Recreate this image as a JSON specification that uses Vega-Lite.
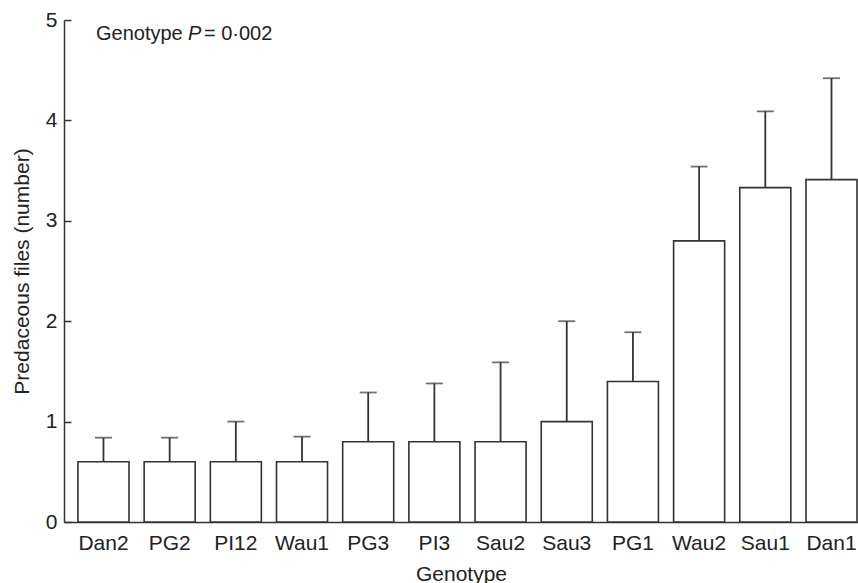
{
  "$schema": "https://vega.github.io/schema/vega-lite/v6.json",
  "autosize": "none",
  "width": 794,
  "height": 502,
  "padding": {"left": 64, "top": 20, "right": 0, "bottom": 61},
  "background": "white",
  "config": {
    "font": "Liberation Sans",
    "view": {"stroke": null},
    "axis": {"grid": false, "domainColor": "#333333", "domainWidth": 1.5, "tickColor": "#333333", "tickWidth": 1.5, "labelColor": "#222222", "titleColor": "#222222", "labelFont": "Liberation Sans", "titleFont": "Liberation Sans", "labelFontSize": 21, "titleFontSize": 21, "titleFontWeight": "normal"}
  },
  "data": {
    "values": [
      {"genotype": "Dan2", "mean": 0.6, "upper": 0.84},
      {"genotype": "PG2", "mean": 0.6, "upper": 0.84},
      {"genotype": "PI12", "mean": 0.6, "upper": 1.0},
      {"genotype": "Wau1", "mean": 0.6, "upper": 0.85},
      {"genotype": "PG3", "mean": 0.8, "upper": 1.29},
      {"genotype": "PI3", "mean": 0.8, "upper": 1.38},
      {"genotype": "Sau2", "mean": 0.8, "upper": 1.59},
      {"genotype": "Sau3", "mean": 1.0, "upper": 2.0},
      {"genotype": "PG1", "mean": 1.4, "upper": 1.89},
      {"genotype": "Wau2", "mean": 2.8, "upper": 3.54},
      {"genotype": "Sau1", "mean": 3.33, "upper": 4.09},
      {"genotype": "Dan1", "mean": 3.41, "upper": 4.42}
    ]
  },
  "encoding": {
    "x": {
      "field": "genotype", "type": "nominal", "sort": null,
      "scale": {"paddingInner": 0.229, "paddingOuter": 0.113, "align": 0.933},
      "axis": {"title": "Genotype", "labelAngle": 0, "ticks": false, "labelPadding": 10, "titlePadding": 10}
    }
  },
  "layer": [
    {
      "mark": {"type": "rule", "color": "#333333", "strokeWidth": 1.8},
      "encoding": {
        "y": {"field": "mean", "type": "quantitative", "scale": {"domain": [0, 5], "nice": false},
          "axis": {"title": "Predaceous files (number)", "values": [0, 1, 2, 3, 4, 5], "format": "d", "tickSize": -7, "labelPadding": 14, "titlePadding": 13}},
        "y2": {"field": "upper"}
      }
    },
    {
      "mark": {"type": "tick", "color": "#333333", "thickness": 1.8, "size": 17, "orient": "horizontal"},
      "encoding": {
        "y": {"field": "upper", "type": "quantitative"}
      }
    },
    {
      "mark": {"type": "bar", "fill": "white", "stroke": "#333333", "strokeWidth": 1.6},
      "encoding": {
        "y": {"field": "mean", "type": "quantitative"}
      }
    },
    {
      "data": {"values": [{"genotype": "Dan2", "y": 4.8, "label": "Genotype"}]},
      "mark": {"type": "text", "align": "left", "baseline": "alphabetic", "fontSize": 20, "dx": 18, "color": "#222222"},
      "encoding": {
        "x": {"field": "genotype", "type": "nominal", "bandPosition": 0},
        "y": {"field": "y", "type": "quantitative"},
        "text": {"field": "label"}
      }
    },
    {
      "data": {"values": [{"genotype": "Dan2", "y": 4.8, "label": "P"}]},
      "mark": {"type": "text", "align": "left", "baseline": "alphabetic", "fontSize": 20, "fontStyle": "italic", "dx": 110, "color": "#222222"},
      "encoding": {
        "x": {"field": "genotype", "type": "nominal", "bandPosition": 0},
        "y": {"field": "y", "type": "quantitative"},
        "text": {"field": "label"}
      }
    },
    {
      "data": {"values": [{"genotype": "Dan2", "y": 4.8, "label": "= 0·002"}]},
      "mark": {"type": "text", "align": "left", "baseline": "alphabetic", "fontSize": 20, "dx": 126, "color": "#222222"},
      "encoding": {
        "x": {"field": "genotype", "type": "nominal", "bandPosition": 0},
        "y": {"field": "y", "type": "quantitative"},
        "text": {"field": "label"}
      }
    }
  ]
}
